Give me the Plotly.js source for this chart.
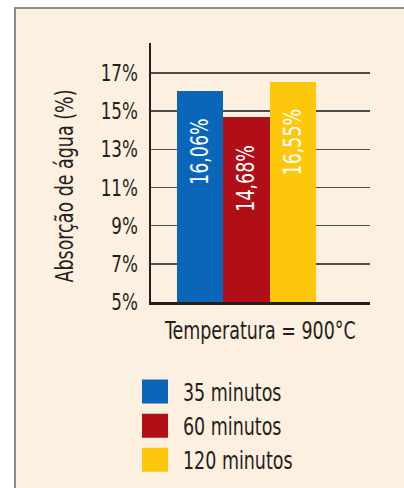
<!DOCTYPE html>
<html>
<head>
<meta charset="utf-8">
<script src="https://cdn.plot.ly/plotly-3.0.1.min.js"></script>
<style>
  html, body { margin: 0; padding: 0; background: #ffffff; }
  #frame {
    position: absolute; left: 14px; top: 7px; width: 390px; height: 481px;
    border-left: 2px solid #8c8c8c; border-top: 2px solid #8c8c8c;
    background: #fdf0e1;
  }
  #chart { position: absolute; left: 0; top: 0; width: 404px; height: 488px; }
</style>
</head>
<body>
<div id="frame"></div>
<div id="chart"></div>
<script>
// Water absorption of the samples fired at 900 °C, by firing time
const category = ['Temperatura = 900°C'];
const seriesNames = ['35 minutos', '60 minutos', '120 minutos'];
const seriesValues = [16.06, 14.68, 16.55];
const valueLabels = ['16,06%', '14,68%', '16,55%'];
const seriesColors = ['#0a66b8', '#b00f17', '#fdc70c'];
const yTickValues = [5, 7, 9, 11, 13, 15, 17];
const yTickLabels = ['5%', '7%', '9%', '11%', '13%', '15%', '17%'];
const yAxisTitle = 'Absorção de água (%)';

const FONT = '"DejaVu Sans Condensed", "DejaVu Sans", sans-serif';
const NARROW = 0.81;   // horizontal squeeze for a tall, condensed type look

const traces = seriesNames.map((name, i) => ({
  type: 'bar',
  name: name,
  x: category,
  y: [seriesValues[i]],
  marker: { color: seriesColors[i], line: { width: 0 } },
  hoverinfo: 'skip'
}));

// value labels sit near the top of each bar, rotated to read upwards
const n = seriesNames.length;
const labelAnnotations = seriesValues.map((v, i) => ({
  x: (i - (n - 1) / 2) / n,
  y: v,
  xref: 'x', yref: 'y',
  text: valueLabels[i],
  textangle: -90,
  showarrow: false,
  xanchor: 'center', yanchor: 'top',
  yshift: -18,
  font: { family: FONT, size: 24, color: '#ffffff' }
}));

const layout = {
  width: 404, height: 488,
  margin: { l: 151, r: 34, t: 43, b: 186, autoexpand: false },
  paper_bgcolor: 'rgba(0,0,0,0)',
  plot_bgcolor: 'rgba(0,0,0,0)',
  barmode: 'group',
  bargap: 0, bargroupgap: 0,
  showlegend: true,
  font: { family: FONT, color: '#231f20' },
  xaxis: {
    type: 'category',
    range: [-0.684, 0.888],
    showticklabels: false,
    ticks: '',
    showgrid: false,
    showline: true, linecolor: '#231f20', linewidth: 2.5,
    zeroline: false,
    title: { text: category[0], font: { family: FONT, size: 24, color: '#231f20' }, standoff: 19 },
    automargin: false
  },
  yaxis: {
    range: [5, 18.57],
    tickvals: yTickValues,
    ticktext: yTickLabels,
    ticks: '',
    ticklabelstandoff: 6,
    tickfont: { family: FONT, size: 23, color: '#231f20' },
    showgrid: true, gridcolor: '#4d4d4d', gridwidth: 1.4,
    showline: true, linecolor: '#231f20', linewidth: 2.5,
    zeroline: false,
    automargin: false
  },
  legend: {
    x: -0.1096, xanchor: 'left',
    y: -0.26, yanchor: 'top',
    bgcolor: 'rgba(0,0,0,0)',
    itemwidth: 46,
    traceorder: 'normal',
    font: { family: FONT, size: 24, color: '#231f20' }
  },
  annotations: labelAnnotations.concat([{
    x: -0.3927, y: 0.447, xref: 'paper', yref: 'paper',
    text: yAxisTitle, textangle: -90, showarrow: false,
    xanchor: 'center', yanchor: 'middle',
    font: { family: FONT, size: 24, color: '#231f20' }
  }])
};

function narrowText(gd) {
  gd.querySelectorAll('svg text').forEach(t => {
    const b = t.getBBox();
    if (!b.width) return;
    const anchor = t.getAttribute('text-anchor') || 'start';
    const px = anchor === 'end' ? b.x + b.width
             : anchor === 'middle' ? b.x + b.width / 2
             : b.x;
    const prev = t.getAttribute('transform') || '';
    t.setAttribute('transform',
      (prev + ' translate(' + px + ',0) scale(' + NARROW + ',1) translate(' + (-px) + ',0)').trim());
  });
}

Plotly.newPlot('chart', traces, layout, { staticPlot: true, displayModeBar: false }).then(gd => {
  // larger square swatches in the legend
  gd.querySelectorAll('.legendpoints path').forEach(p => {
    p.setAttribute('d', 'M13,12H-13V-12H13Z');
  });
  narrowText(gd);
});
</script>
</body>
</html>
